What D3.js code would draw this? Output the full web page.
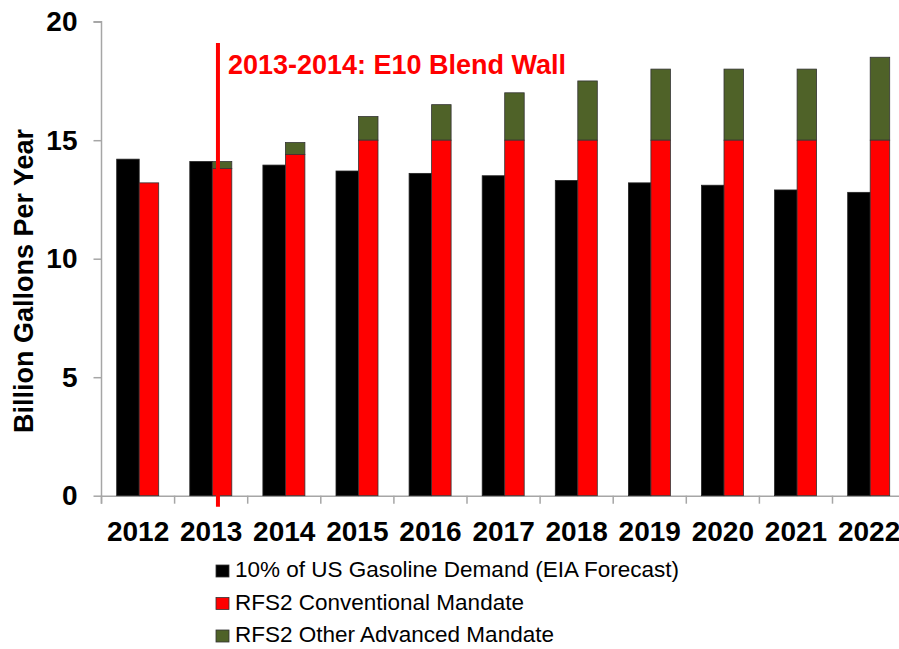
<!DOCTYPE html>
<html>
<head>
<meta charset="utf-8">
<script src="https://cdn.jsdelivr.net/npm/d3@7"></script>
<style>
body { margin: 0; background: #fff; }
svg { display: block; font-family: "Liberation Sans", Arial, sans-serif; }
</style>
</head>
<body>
<svg id="chart" width="899" height="649"></svg>
<script>
var years = ['2012','2013','2014','2015','2016','2017','2018','2019','2020','2021','2022'];
var gasDemand = [14.2, 14.1, 13.95, 13.7, 13.6, 13.5, 13.3, 13.2, 13.1, 12.9, 12.8];
var conventional = [13.2, 13.8, 14.4, 15, 15, 15, 15, 15, 15, 15, 15];
var otherAdvanced = [0, 0.3, 0.5, 1.0, 1.5, 2.0, 2.5, 3.0, 3.0, 3.0, 3.5];
var yTicks = [0, 5, 10, 15, 20];
var legendLabels = ['10% of US Gasoline Demand (EIA Forecast)', 'RFS2 Conventional Mandate', 'RFS2 Other Advanced Mandate'];
var legendColors = ['#000000', '#ff0000', '#4f6228'];
var note = '2013-2014: E10 Blend Wall';

var svg = d3.select('#chart');

var x = d3.scaleBand()
	.domain(years)
	.range([101.5, 905.6])
	.padding(0);

var y = d3.scaleLinear()
	.domain([0, 20])
	.range([495.7, 21.7]);

var axisColor = '#a6a6a6';

// y axis
var yAxis = svg.append('g')
	.attr('transform', 'translate(101.5,0)')
	.call(d3.axisLeft(y).tickValues(yTicks).tickSize(8).tickPadding(16));
yAxis.select('.domain').attr('stroke', axisColor).attr('stroke-width', 1.5)
	.attr('d', 'M-8,' + y(20) + 'H0V' + (y(0) + 8));
yAxis.selectAll('.tick line').attr('stroke', axisColor).attr('stroke-width', 1.5);
yAxis.selectAll('.tick text')
	.attr('fill', '#000')
	.style('font-size', '28px')
	.style('font-weight', 'bold')
	.style('font-family', '"Liberation Sans", Arial, sans-serif');

// x axis
var xAxis = svg.append('g')
	.attr('transform', 'translate(0,' + y(0) + ')')
	.call(d3.axisBottom(x).tickSize(0).tickPadding(25));
xAxis.select('.domain').attr('stroke', axisColor).attr('stroke-width', 1.5);
xAxis.selectAll('.tick text')
	.attr('fill', '#000')
	.style('font-size', '28px')
	.style('font-weight', 'bold')
	.style('font-family', '"Liberation Sans", Arial, sans-serif');
svg.append('g').selectAll('line')
	.data(years)
	.join('line')
	.attr('x1', function(d) { return x(d); })
	.attr('x2', function(d) { return x(d); })
	.attr('y1', y(0))
	.attr('y2', y(0) + 8)
	.attr('stroke', axisColor)
	.attr('stroke-width', 1.5);

// bars
var bars = svg.append('g');

bars.selectAll('.demand')
	.data(years)
	.join('rect')
	.attr('class', 'demand')
	.attr('x', function(d) { return x(d) + 15.2; })
	.attr('width', 22.5)
	.attr('y', function(d, i) { return y(gasDemand[i]); })
	.attr('height', function(d, i) { return y(0) - y(gasDemand[i]); })
	.attr('fill', legendColors[0])
	.attr('stroke', '#222')
	.attr('stroke-width', 0.8);

bars.selectAll('.adv')
	.data(years)
	.join('rect')
	.attr('class', 'adv')
	.attr('x', function(d) { return x(d) + 37.7; })
	.attr('width', 19.5)
	.attr('y', function(d, i) { return y(conventional[i] + otherAdvanced[i]); })
	.attr('height', function(d, i) { return y(conventional[i]) - y(conventional[i] + otherAdvanced[i]); })
	.attr('fill', legendColors[2])
	.attr('stroke', '#333')
	.attr('stroke-width', 0.8);

bars.selectAll('.conv')
	.data(years)
	.join('rect')
	.attr('class', 'conv')
	.attr('x', function(d) { return x(d) + 37.7; })
	.attr('width', 19.5)
	.attr('y', function(d, i) { return y(conventional[i]); })
	.attr('height', function(d, i) { return y(0) - y(conventional[i]); })
	.attr('fill', legendColors[1])
	.attr('stroke', '#333')
	.attr('stroke-width', 0.8);

// blend wall marker
var markX = x('2013') + x.bandwidth() / 2 + 6.8;
svg.append('line')
	.attr('x1', markX).attr('x2', markX)
	.attr('y1', y(19.1)).attr('y2', y(0) + 11)
	.attr('stroke', '#ff0000')
	.attr('stroke-width', 4);
svg.append('text')
	.attr('x', markX + 10)
	.attr('y', 73.5)
	.attr('fill', '#ff0000')
	.style('font-size', '27px')
	.style('font-weight', 'bold')
	.text(note);

// y title
svg.append('text')
	.attr('transform', 'translate(33,281) rotate(-90)')
	.attr('text-anchor', 'middle')
	.attr('fill', '#000')
	.style('font-size', '27px')
	.style('font-weight', 'bold')
	.text('Billion Gallons Per Year');

// legend
var legend = svg.append('g')
	.selectAll('g')
	.data(legendLabels)
	.join('g')
	.attr('transform', function(d, i) { return 'translate(216,' + (577 + i * 32.5) + ')'; });
legend.append('rect')
	.attr('x', 0).attr('y', -12)
	.attr('width', 13).attr('height', 12)
	.attr('fill', function(d, i) { return legendColors[i]; })
	.attr('stroke', '#333')
	.attr('stroke-width', 0.8);
legend.append('text')
	.attr('x', 19)
	.attr('y', 0)
	.attr('fill', '#000')
	.style('font-size', '22.5px')
	.text(function(d) { return d; });
</script>
</body>
</html>
